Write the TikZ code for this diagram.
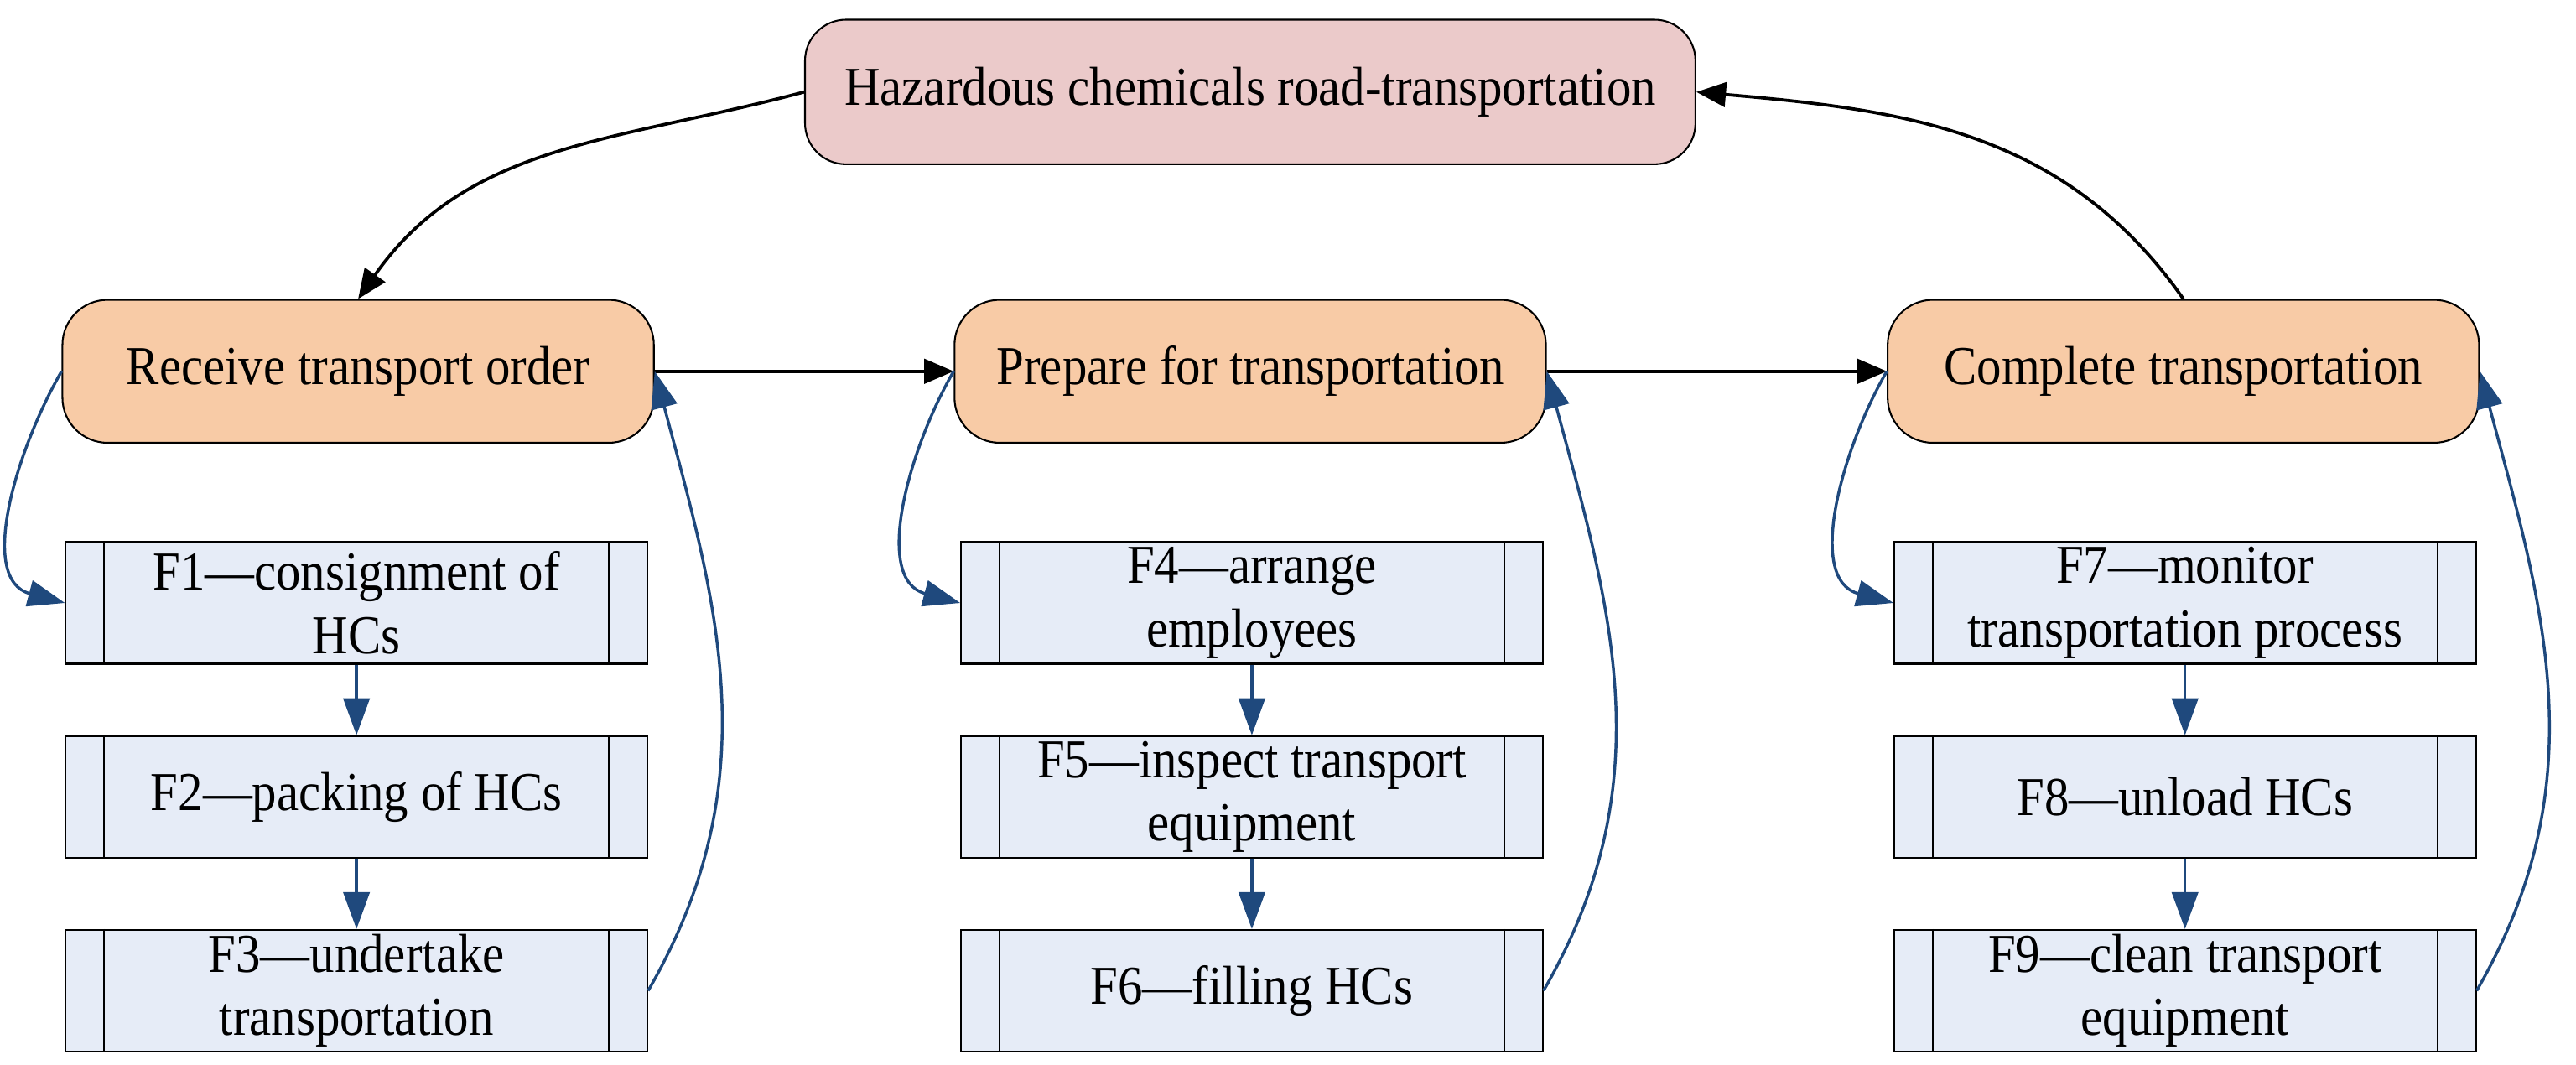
\documentclass[tikz,border=0pt]{standalone}
\usepackage{fontspec}
\setmainfont[FakeStretch=0.9]{Liberation Serif}
\usepackage{tikz}
\usetikzlibrary{arrows.meta}
\usepackage{xcolor}
\definecolor{lineblue}{HTML}{1F497D}
\definecolor{topfill}{HTML}{EBCACA}
\definecolor{stepfill}{HTML}{F8CBA6}
\definecolor{funcfill}{HTML}{E6ECF7}

\begin{document}
\begin{tikzpicture}
	[line width=0.6,font=\fontsize{19}{22}\selectfont,
	goal/.style = {
		draw, rounded corners=0.5cm, fill=topfill, minimum width=10.84cm, minimum height=1.76cm
	},
	stage/.style = {
		draw, rounded corners=0.55cm, fill=stepfill, minimum width=7.2cm, minimum height=1.74cm
	},
	func/.style = {
		draw, fill=funcfill, minimum width=7.08cm, minimum height=1.48cm,
		align=center, inner sep=0cm,
		append after command = {
			([xshift=0.48cm]\tikzlastnode.north west) edge ([xshift=0.48cm]\tikzlastnode.south west)
			([xshift=-0.48cm]\tikzlastnode.north east) edge ([xshift=-0.48cm]\tikzlastnode.south east)
		}
	},
	flow/.style = {
		-{Triangle[length=0.36cm,width=0.3cm]}, line width=1.1
	},
	link/.style = {
		-{Triangle[length=0.45cm,width=0.32cm,fill=lineblue]}, draw=lineblue, line width=1
	}]
	\useasboundingbox (0,0) rectangle (31.36,12.96);
	
	%Draw nodes
	\node[goal] at (15.22,11.84) (road) {Hazardous chemicals road-transportation};
	\node[stage] at (4.36,8.44) (receive) {Receive transport order};
	\node[stage] at (15.22,8.44) (prepare) {Prepare for transportation};
	\node[stage] at (26.58,8.44) (complete) {Complete transportation};
	\node[func] at (4.34,5.62) (F1) {F1---consignment of\\HCs};
	\node[func] at (4.34,3.26) (F2) {F2---packing of HCs};
	\node[func] at (4.34,0.9) (F3) {F3---undertake\\transportation};
	\node[func] at (15.24,5.62) (F4) {F4---arrange\\employees};
	\node[func] at (15.24,3.26) (F5) {F5---inspect transport\\equipment};
	\node[func] at (15.24,0.9) (F6) {F6---filling HCs};
	\node[func] at (26.6,5.62) (F7) {F7---monitor\\transportation process};
	\node[func] at (26.6,3.26) (F8) {F8---unload HCs};
	\node[func] at (26.6,0.9) (F9) {F9---clean transport\\equipment};
	
	%Draw main flow
	\draw[flow] (road.west) to[out=195, in=55] (receive.north);
	\draw[flow] (receive.east) -- (prepare.west);
	\draw[flow] (prepare.east) -- (complete.west);
	\draw[flow] (complete.north) to[out=125, in=-5] (road.east);
	
	%Draw functions
	\foreach \s/\a/\b/\c in {receive/F1/F2/F3, prepare/F4/F5/F6, complete/F7/F8/F9}{
		\draw[link] (\s.west) to[out=240, in=165] (\a.west);
		\draw[link] (\a) -- (\b);
		\draw[link] (\b) -- (\c);
		\draw[link] (\c.east) to[out=60, in=-75] (\s.east);
	}
\end{tikzpicture}
\end{document}
